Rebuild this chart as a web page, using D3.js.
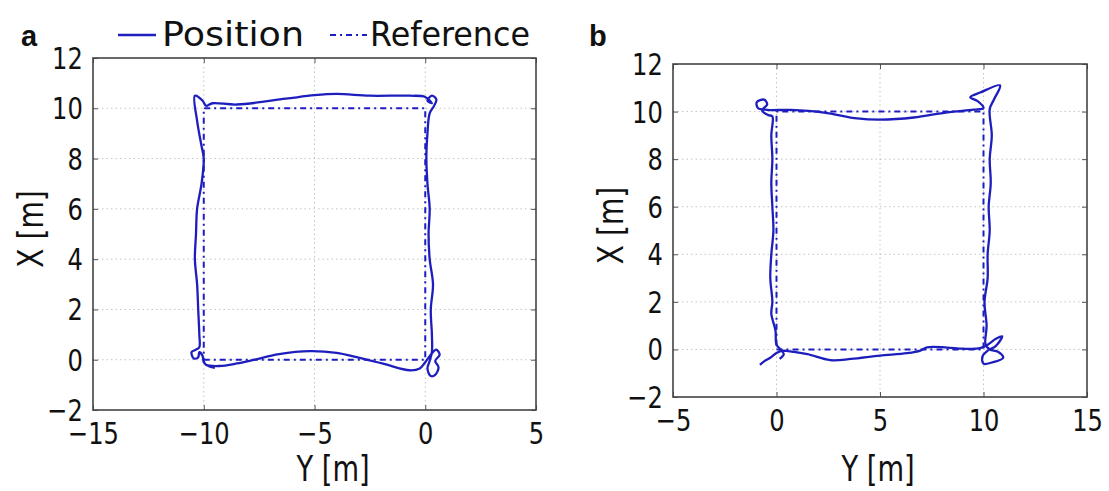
<!DOCTYPE html>
<html><head><meta charset="utf-8">
<script src="https://cdn.jsdelivr.net/npm/d3@7"></script>
<style>
html,body{margin:0;padding:0;background:#fff;}
svg{display:block;}
</style>
</head><body>
<svg id="chart" width="1109" height="491"></svg>
<script>
// ---------- data ----------
const xTicksA = [-15, -10, -5, 0, 5];
const xTicksB = [-5, 0, 5, 10, 15];
const yTicks = [-2, 0, 2, 4, 6, 8, 10, 12];
const panelLabels = ["a", "b"];
const legendLabels = ["Position", "Reference"];
const axisLabelX = "Y [m]";
const axisLabelY = "X [m]";

// reference paths [Y, X]
const refA = [[-10, 0], [0, 0], [0, 10], [-10, 10], [-10, 0]];
const refB = [[0, 0], [10, 0], [10, 10], [0, 10], [0, 0]];

// measured position paths [Y, X]
const posA = [
  [-10.0, -0.05], [-9.9, -0.2], [-9.3, -0.25], [-8.5, -0.15], [-7.8, -0.02], [-6.6, 0.22],
  [-5.2, 0.34], [-4.0, 0.27], [-3.1, 0.1], [-1.9, -0.16], [-0.7, -0.42], [-0.25, -0.35],
  [0.0, -0.1], [0.25, 0.2], [0.5, 0.4], [0.65, 0.2], [0.45, -0.05], [0.6, -0.3], [0.45, -0.6],
  [0.25, -0.65], [0.1, -0.35], [0.2, -0.05], [0.3, 0.3],
  [0.3, 1.0], [0.25, 2.0], [0.35, 3.0], [0.2, 4.0], [0.15, 5.0], [0.2, 6.0], [0.1, 7.0],
  [0.05, 8.0], [0.1, 9.0], [0.2, 9.8],
  [0.4, 10.1], [0.5, 10.35], [0.3, 10.5], [0.1, 10.3], [0.3, 10.2], [0.0, 10.45],
  [-0.7, 10.5], [-2.5, 10.5], [-4.0, 10.57], [-5.0, 10.52], [-6.3, 10.38], [-8.5, 10.15],
  [-9.6, 10.2], [-9.9, 10.1], [-10.05, 10.3], [-10.4, 10.5],
  [-10.3, 9.5], [-10.1, 8.5], [-10.0, 8.0], [-10.1, 7.0], [-10.3, 6.0], [-10.35, 5.0],
  [-10.4, 4.0], [-10.3, 3.0], [-10.25, 2.0], [-10.2, 1.0], [-10.2, 0.5],
  [-10.35, 0.4], [-10.55, 0.3], [-10.45, 0.05], [-10.25, 0.1], [-10.2, 0.3], [-10.05, 0.15],
  [-10.0, -0.1], [-9.8, -0.25], [-9.5, -0.32]
];
const posB = [
  [-0.8, -0.65], [-0.6, -0.5], [-0.3, -0.35], [0.0, -0.15], [0.3, -0.05], [0.8, -0.1],
  [1.5, -0.2], [2.6, -0.45], [3.6, -0.4], [5.0, -0.26], [6.3, -0.16], [6.95, -0.05],
  [7.27, 0.09], [8.24, 0.08], [9.0, 0.03], [9.84, 0.05],
  [10.2, 0.2], [10.6, 0.45], [10.9, 0.55], [10.6, 0.15], [10.2, -0.05], [9.95, -0.3],
  [10.0, -0.6], [10.4, -0.55], [10.95, -0.35], [10.7, -0.1], [10.3, 0.0], [10.1, 0.2],
  [10.15, 1.0], [10.05, 2.0], [10.2, 3.0], [10.2, 4.0], [10.3, 5.0], [10.25, 6.0],
  [10.35, 7.0], [10.3, 8.0], [10.4, 9.0], [10.3, 10.1],
  [10.5, 10.5], [10.8, 11.1], [9.84, 10.8], [9.36, 10.6], [9.7, 10.45], [10.0, 10.15],
  [9.52, 10.08], [8.24, 9.97], [6.63, 9.75], [5.0, 9.66], [3.9, 9.71], [2.3, 9.96],
  [0.69, 10.07], [-0.44, 10.07],
  [-0.9, 10.15], [-0.95, 10.4], [-0.6, 10.5], [-0.45, 10.3], [-0.7, 10.05], [-0.4, 9.85],
  [-0.2, 9.8],
  [-0.25, 9.0], [-0.2, 8.0], [-0.25, 7.0], [-0.2, 6.0], [-0.15, 5.0], [-0.25, 4.0],
  [-0.3, 3.0], [-0.2, 2.0], [-0.25, 1.5], [-0.05, 0.8], [0.0, 0.2], [0.2, 0.0],
  [0.35, -0.2], [0.15, -0.4]
];

// ---------- drawing ----------
const svg = d3.select("#chart");
const blue = "#1e1ebe";
const fontNarrow = "'DejaVu Sans',sans-serif";
const squeeze = "scale(0.78,1)";

const panels = [
  {left: 93, right: 536, top: 58, bottom: 410, xDom: [-15, 5], xTicks: xTicksA, pos: posA, ref: refA, label: panelLabels[0], lx: 21, xlab: 333},
  {left: 673, right: 1087, top: 64, bottom: 397, xDom: [-5, 15], xTicks: xTicksB, pos: posB, ref: refB, label: panelLabels[1], lx: 589, xlab: 878}
];

const minus = d => d < 0 ? "\u2212" + Math.abs(d) : String(d);

panels.forEach(p => {
  const x = d3.scaleLinear().domain(p.xDom).range([p.left, p.right]);
  const y = d3.scaleLinear().domain([-2, 12]).range([p.bottom, p.top]);
  const g = svg.append("g");
  const w = p.right - p.left, h = p.bottom - p.top;

  // grid
  g.append("g").selectAll("line").data(p.xTicks.slice(1, -1)).join("line")
    .attr("x1", d => x(d)).attr("x2", d => x(d)).attr("y1", p.top).attr("y2", p.bottom)
    .attr("stroke", "#c4c4c4").attr("stroke-width", 1).attr("stroke-dasharray", "1.5,3");
  g.append("g").selectAll("line").data(yTicks.slice(1, -1)).join("line")
    .attr("y1", d => y(d)).attr("y2", d => y(d)).attr("x1", p.left).attr("x2", p.right)
    .attr("stroke", "#c4c4c4").attr("stroke-width", 1).attr("stroke-dasharray", "1.5,3");

  // axes (inward ticks)
  const xb = g.append("g").attr("transform", `translate(0,${p.bottom})`)
    .call(d3.axisBottom(x).tickValues(p.xTicks).tickSize(-5).tickPadding(15).tickFormat(minus));
  const xt = g.append("g").attr("transform", `translate(0,${p.top})`)
    .call(d3.axisTop(x).tickValues(p.xTicks).tickSize(-5).tickFormat(""));
  const yl = g.append("g").attr("transform", `translate(${p.left},0)`)
    .call(d3.axisLeft(y).tickValues(yTicks).tickSize(-5).tickPadding(13).tickFormat(minus));
  const yr = g.append("g").attr("transform", `translate(${p.right},0)`)
    .call(d3.axisRight(y).tickValues(yTicks).tickSize(-5).tickFormat(""));
  [xb, xt, yl, yr].forEach(a => {
    a.select(".domain").remove();
    a.selectAll(".tick line").attr("stroke", "#555").attr("stroke-width", 1);
    a.selectAll("text").attr("font-family", fontNarrow).attr("font-size", 31)
      .attr("fill", "#111").attr("transform", squeeze);
  });
  xb.selectAll("text").attr("dy", "0.6em");
  yl.selectAll("text").attr("dy", "0.34em");

  // box
  g.append("rect").attr("x", p.left).attr("y", p.top).attr("width", w).attr("height", h)
    .attr("fill", "none").attr("stroke", "#444").attr("stroke-width", 1.6);

  // lines
  const line = d3.line().x(d => x(d[0])).y(d => y(d[1]));
  const smooth = d3.line().x(d => x(d[0])).y(d => y(d[1])).curve(d3.curveCatmullRom.alpha(0.5));
  g.append("path").datum(p.ref).attr("d", line).attr("fill", "none")
    .attr("stroke", blue).attr("stroke-width", 2).attr("stroke-dasharray", "6,4,2,4");
  g.append("path").datum(p.pos).attr("d", smooth).attr("fill", "none")
    .attr("stroke", blue).attr("stroke-width", 2.3).attr("stroke-linejoin", "round");

  // axis labels
  g.append("text").attr("transform", `translate(${p.xlab},481) ${squeeze}`)
    .attr("text-anchor", "middle").attr("font-family", fontNarrow).attr("font-size", 35)
    .attr("fill", "#111").text(axisLabelX);
  g.append("text").attr("transform", `translate(${p.left - 50},${(p.top + p.bottom) / 2 - 5}) rotate(-90) ${squeeze}`)
    .attr("text-anchor", "middle").attr("font-family", fontNarrow).attr("font-size", 36)
    .attr("fill", "#111").text(axisLabelY);

  // panel letter
  g.append("text").attr("x", p.lx).attr("y", 46).attr("font-family", "Liberation Sans, Arial, sans-serif")
    .attr("font-weight", "bold").attr("font-size", 29).attr("fill", "#111").text(p.label);
});

// legend
const lg = svg.append("g");
lg.append("line").attr("x1", 118).attr("x2", 156).attr("y1", 35).attr("y2", 35)
  .attr("stroke", blue).attr("stroke-width", 2.3);
lg.append("text").attr("x", 162).attr("y", 46).attr("font-family", fontNarrow).attr("font-size", 34)
  .attr("fill", "#111").attr("textLength", 142).attr("lengthAdjust", "spacingAndGlyphs").text(legendLabels[0]);
lg.append("line").attr("x1", 330).attr("x2", 367).attr("y1", 35).attr("y2", 35)
  .attr("stroke", blue).attr("stroke-width", 2).attr("stroke-dasharray", "6,4,2,4");
lg.append("text").attr("x", 370).attr("y", 46).attr("font-family", fontNarrow).attr("font-size", 34)
  .attr("fill", "#111").attr("textLength", 160).attr("lengthAdjust", "spacingAndGlyphs").text(legendLabels[1]);
</script>
</body></html>
